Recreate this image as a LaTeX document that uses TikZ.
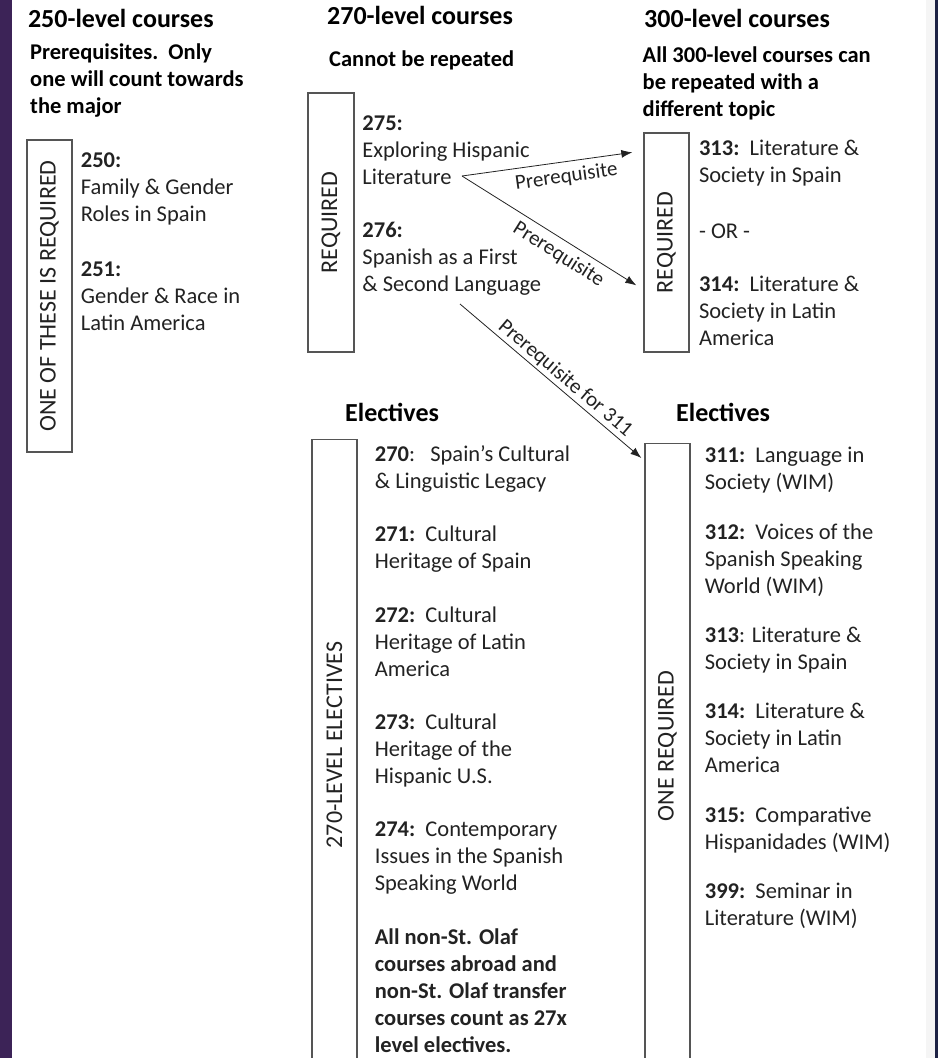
\documentclass[tikz,border=0pt]{standalone}
\usepackage{fontspec}
\setmainfont{Carlito}
\usetikzlibrary{positioning,arrows.meta}

\definecolor{slidepurple}{HTML}{3C2357}
\definecolor{slidenavy}{HTML}{1D2244}
\definecolor{inkgray}{HTML}{222222}
\definecolor{linegray}{HTML}{555555}

% fixed depth below the last line of the course lists
\newcommand{\linestrut}{\vrule height 18.9pt depth 8.1pt width 0pt}

\begin{document}
\begin{tikzpicture}[
    x=1pt, y=-1pt,
    node distance=27pt,
    heading/.style={
        anchor=base west,
        inner sep=0pt,
        font=\fontsize{26}{31}\selectfont\bfseries
    },
    course/.style={
        anchor=north west,
        align=left,
        inner sep=0pt,
        text=inkgray,
        font=\fontsize{22.5}{27}\selectfont,
        execute at begin node=\linestrut
    },
    subhead/.style={
        course,
        text=black,
        font=\fontsize{22.5}{27}\selectfont\bfseries
    },
    tagbox/.style={
        draw=linegray,
        line width=1.3pt,
        minimum width=45pt,
        inner sep=0pt
    },
    taglabel/.style={
        rotate=90,
        inner sep=0pt,
        text=inkgray,
        font=\fontsize{24}{28}\selectfont
    },
    arrow/.style={-{Latex[length=11pt, width=8pt]}, draw=inkgray, line width=0.8pt},
    prereq/.style={sloped, inner sep=5pt, text=inkgray, font=\fontsize{21}{25}\selectfont}
]

\useasboundingbox (0,0) rectangle (938,1058);
\clip (0,0) rectangle (938,1058);

% slide edges
\fill[slidepurple] (0,0) rectangle (12,1058);
\fill[black!4] (926,0) rectangle (935,1058);
\fill[slidenavy] (935,0) rectangle (938,1058);

% column headings
\node[heading] (h250) at (27.8,27) {250-level courses};
\node[heading] (h270) at (327,24) {270-level courses};
\node[heading] (h300) at (644,27) {300-level courses};
\node[subhead] (n250) at (30,43.5) {Prerequisites.\ \ Only\\one will count towards\\the major};
\node[subhead] (n270) at (329,47.5) {Cannot be repeated};
\node[subhead] (n300) at (642.5,46.5) {All 300-level courses can\\be repeated with a\\different topic};

% required boxes
\node[tagbox, minimum height=312pt] (box250) at (49.5,296) {};
\node[taglabel] (lab250) at (box250.center) {ONE OF THESE IS REQUIRED};
\node[tagbox, minimum width=46pt, minimum height=259pt] (box270) at (331,222.5) {};
\node[taglabel] (lab270) at (box270.center) {REQUIRED};
\node[tagbox, minimum height=219pt] (box300) at (666.5,242.5) {};
\node[taglabel] (lab300) at (box300.center) {REQUIRED};

% required courses
\node[course, below right=13.3pt and 8pt of box250.north east] (c250) {\textbf{250:}\\Family \& Gender\\Roles in Spain};
\node[course, below=31.4pt of c250.south west, anchor=north west] (c251) {\textbf{251:}\\Gender \& Race in\\Latin America};

\node[course, below right=23.4pt and 7.6pt of box270.north east] (c275) {\textbf{275:}\\Exploring Hispanic\\Literature};
\node[course, below=28.7pt of c275.south west, anchor=north west] (c276) {\textbf{276:}\\Spanish as a First\\\& Second Language};

\node[course, below right=7.5pt and 9.2pt of box300.north east] (c313) {\textbf{313:}\ \ Literature \&\\Society in Spain};
\node[course, below=29pt of c313.south west, anchor=north west] (cor) {- OR -};
\node[course, below=29pt of cor.south west, anchor=north west] (c314) {\textbf{314:}\ \ Literature \&\\Society in Latin\\America};

% electives
\node[heading] (he270) at (345,421) {Electives};
\node[heading] (he300) at (676,421) {Electives};
\node[tagbox, minimum height=700pt, anchor=north] (boxe270) at (334.5,439) {};
\node[taglabel] (labe270) at (334.5,745) {270-LEVEL ELECTIVES};
\node[tagbox, minimum height=700pt, anchor=north] (boxe300) at (667.5,443) {};
\node[taglabel] (labe300) at (667.5,746) {ONE REQUIRED};

\node[course, below right=6pt and 17pt of boxe270.north east] (e270) {\textbf{270}:\ \ \ Spain’s Cultural\\\& Linguistic Legacy};
\node[course, below=29.5pt of e270.south west, anchor=north west] (e271) {\textbf{271:}\ \ Cultural\\Heritage of Spain};
\node[course, below=29.5pt of e271.south west, anchor=north west] (e272) {\textbf{272:}\ \ Cultural\\Heritage of Latin\\America};
\node[course, below=29.5pt of e272.south west, anchor=north west] (e273) {\textbf{273:}\ \ Cultural\\Heritage of the\\Hispanic U.S.};
\node[course, below=29.5pt of e273.south west, anchor=north west] (e274) {\textbf{274:}\ \ Contemporary\\Issues in the Spanish\\Speaking World};
\node[subhead, text=inkgray, below=29.5pt of e274.south west, anchor=north west] (eabroad) {All non-St. Olaf\\courses abroad and\\non-St. Olaf transfer\\courses count as 27x\\level electives.};

\node[course, below right=4pt and 14pt of boxe300.north east] (e311) {\textbf{311:}\ \ Language in\\Society (WIM)};
\node[course, below=25.3pt of e311.south west, anchor=north west] (e312) {\textbf{312:}\ \ Voices of the\\Spanish Speaking\\World (WIM)};
\node[course, below=25.3pt of e312.south west, anchor=north west] (e313) {\textbf{313}: Literature \&\\Society in Spain};
\node[course, below=25.3pt of e313.south west, anchor=north west] (e314) {\textbf{314:}\ \ Literature \&\\Society in Latin\\America};
\node[course, below=25.3pt of e314.south west, anchor=north west] (e315) {\textbf{315:}\ \ Comparative\\Hispanidades (WIM)};
\node[course, below=25.3pt of e315.south west, anchor=north west] (e399) {\textbf{399:}\ \ Seminar in\\Literature (WIM)};

% prerequisite arrows
\coordinate (litend) at (462,176);
\coordinate (langend) at (460,304);
\draw[arrow] (litend) -- node[prereq, below, pos=0.6, inner sep=6pt] {Prerequisite} ([shift={(-11,20)}]box300.north west);
\draw[arrow] (litend) -- node[prereq, below, pos=0.6, inner sep=6pt] {Prerequisite} ([shift={(-7,153)}]box300.north west);
\draw[arrow] (langend) -- node[prereq, above, pos=0.54, inner sep=2pt] {Prerequisite for 311} ([shift={(-3,15)}]boxe300.north west);

\end{tikzpicture}
\end{document}
